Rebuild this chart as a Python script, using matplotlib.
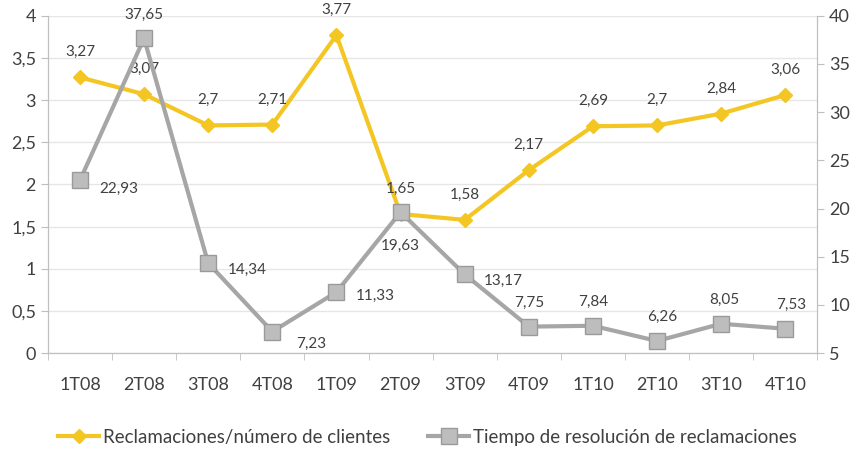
import matplotlib.pyplot as plt
from matplotlib.ticker import FuncFormatter

plt.rcParams['font.family'] = ['Lato', 'DejaVu Sans']

quarters = ["1T08", "2T08", "3T08", "4T08", "1T09", "2T09",
            "3T09", "4T09", "1T10", "2T10", "3T10", "4T10"]
ratio = [3.27, 3.07, 2.70, 2.71, 3.77, 1.65, 1.58, 2.17, 2.69, 2.70, 2.84, 3.06]
resolution = [22.93, 37.65, 14.34, 7.23, 11.33, 19.63, 13.17, 7.75, 7.84, 6.26, 8.05, 7.53]

# label offsets (points) for the grey series
grey_offsets = [(28, -6), (0, 12), (28, -5), (28, -9), (28, -3), (0, -24),
                (28, -5), (0, 12), (0, 12), (4, 12), (2, 12), (4, 12)]

YELLOW = "#F4C623"
GREY = "#A6A6A6"
TEXT = "#404040"


def comma(v, pos=None):
    s = ("%g" % v).replace(".", ",")
    return s


def plot_chart():
    fig = plt.figure(figsize=(8.55, 4.51), dpi=100)
    ax1 = fig.add_axes([0.056, 0.217, 0.900, 0.748])
    ax2 = ax1.twinx()
    x = list(range(len(quarters)))

    ax1.plot(x, ratio, color=YELLOW, lw=3, marker="D", ms=7,
             mec=YELLOW, mfc=YELLOW, zorder=3,
             label="Reclamaciones/número de clientes")
    ax2.plot(x, resolution, color=GREY, lw=3, marker="s", ms=11,
             mfc="#BDBDBD", mec="#9A9A9A", zorder=3,
             label="Tiempo de resolución de reclamaciones")

    for i, v in enumerate(ratio):
        ax1.annotate(comma(v), (i, v), xytext=(0, 13), textcoords="offset points",
                     ha="center", va="bottom", fontsize=11, color=TEXT)
    for i, v in enumerate(resolution):
        dx, dy = grey_offsets[i]
        ax2.annotate(comma(v), (i, v), xytext=(dx, dy), textcoords="offset points",
                     ha="center", va="bottom" if dy > 0 else "center",
                     fontsize=11, color=TEXT)

    ax1.set_xlim(-0.5, len(quarters) - 0.5)
    ax1.set_ylim(0, 4)
    ax2.set_ylim(5, 40)
    ax1.set_yticks([i * 0.5 for i in range(9)])
    ax2.set_yticks(range(5, 45, 5))
    ax1.yaxis.set_major_formatter(FuncFormatter(comma))
    ax1.set_xticks(x)
    ax1.set_xticklabels(quarters)
    ax1.set_xticks([i - 0.5 for i in range(len(quarters) + 1)], minor=True)
    ax1.tick_params(axis="x", which="major", length=0, pad=17,
                    labelsize=13, labelcolor=TEXT)
    ax1.tick_params(axis="x", which="minor", length=5, color="#BFBFBF")
    ax1.tick_params(axis="y", length=5, color="#BFBFBF", labelsize=13,
                    labelcolor=TEXT)
    ax2.tick_params(axis="y", length=5, color="#BFBFBF", labelsize=13,
                    labelcolor=TEXT)

    ax1.grid(axis="y", color="#E6E6E6", lw=1)
    ax1.set_axisbelow(True)
    for ax in (ax1, ax2):
        ax.spines["top"].set_visible(False)
        for side in ("left", "right", "bottom"):
            ax.spines[side].set_color("#BFBFBF")

    h1, l1 = ax1.get_legend_handles_labels()
    h2, l2 = ax2.get_legend_handles_labels()
    fig.legend(h1 + h2, l1 + l2, loc="center", bbox_to_anchor=(0.5, 0.03),
               ncol=2, frameon=False, fontsize=13.5, labelcolor=TEXT,
               handlelength=2.2, columnspacing=2.0, handletextpad=0.2)

    fig.savefig("out.png", dpi=100)


plot_chart()
